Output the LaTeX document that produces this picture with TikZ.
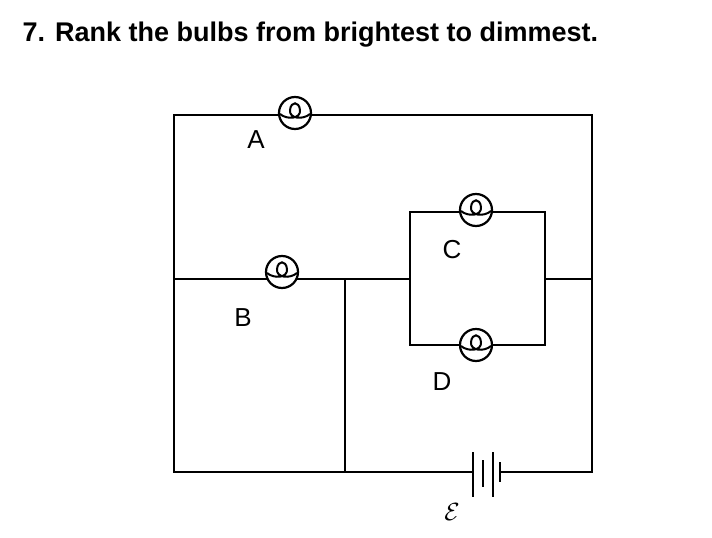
\documentclass[tikz,border=0pt]{standalone}
\usepackage{fontspec}
\setsansfont{Liberation Sans}
\begin{document}
\begin{tikzpicture}[x=1pt,y=-1pt,line width=2.6pt]
	\tikzset{bulb/.pic={
		\fill[white] (0,0) circle (16);
		\draw[line width=2.2pt] (0,0) circle (16);
		\draw[line width=2pt] (-15,1) .. controls (-8,7) and (6,6) .. (5,-3)
			.. controls (4,-12) and (-4,-12) .. (-5,-3)
			.. controls (-6,6) and (8,7) .. (15,1);
	}}
	\useasboundingbox (0,0) rectangle (712,538);
	\node[anchor=west,font=\fontsize{27}{30}\selectfont\sffamily\bfseries] (title) at (18,35) {7. Rank the bulbs from brightest to dimmest.};
	% wires
	\coordinate (tl) at (174,115);
	\coordinate (tr) at (592,115);
	\coordinate (br) at (592,472);
	\coordinate (bl) at (174,472);
	\coordinate (ml) at (174,279);
	\coordinate (mj) at (345,279);
	\coordinate (mb) at (345,472);
	\coordinate (mr) at (592,279);
	\draw (tl) -- (tr) -- (br) -- (bl) -- cycle;
	\draw (ml) -- (mj) -- (mb);
	\draw (mj) -- (410,279);
	\draw (545,279) -- (mr);
	\draw (410,212) rectangle (545,345);
	% battery
	\fill[white] (462,462) rectangle (506,482);
	\draw[line width=1.5pt] (440,472) -- (473,472) (500,472) -- (530,472);
	\draw[line width=1.8pt] (473,452) -- (473,497) (483,460) -- (483,487)
		(493,452) -- (493,497) (500,462) -- (500,482);
	% bulbs
	\pic at (295,113) {bulb};
	\pic at (282,272) {bulb};
	\pic at (476,210) {bulb};
	\pic at (476,345) {bulb};
	% labels
	\node[font=\fontsize{26}{28}\selectfont\sffamily] (labA) at (256,140) {A};
	\node[font=\fontsize{26}{28}\selectfont\sffamily] (labB) at (243,318) {B};
	\node[font=\fontsize{26}{28}\selectfont\sffamily] (labC) at (452,250) {C};
	\node[font=\fontsize{26}{28}\selectfont\sffamily] (labD) at (442,382) {D};
	\node[font=\fontsize{38}{40}\selectfont] (emf) at (452,512) {$\mathcal{E}$};
\end{tikzpicture}
\end{document}
